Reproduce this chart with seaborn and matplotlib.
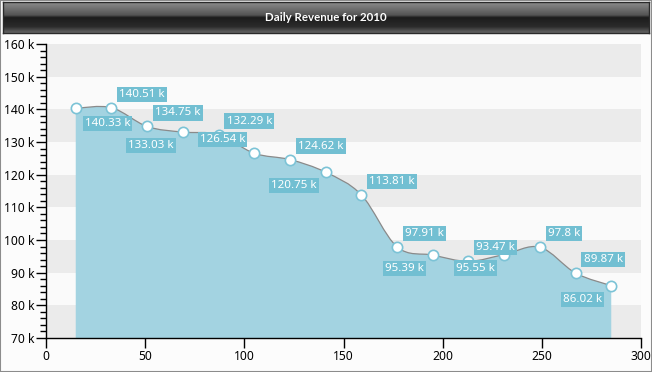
import matplotlib
matplotlib.use("Agg")
import matplotlib.pyplot as plt
import matplotlib.ticker as mticker
from matplotlib.path import Path
from matplotlib.patches import PathPatch, Rectangle
import numpy as np
import seaborn as sns


# ---------------------------------------------------------------------------
# Data
# ---------------------------------------------------------------------------

DAYS = [15, 33, 51, 69, 87, 105, 123, 141, 159, 177, 195, 213, 231, 249, 267, 285]
REVENUE = [140330, 140510, 134750, 133030, 132290, 126540, 124620, 120750,
           113810, 97910, 95390, 93470, 95550, 97800, 89870, 86020]
X_TICKS = [0, 50, 100, 150, 200, 250, 300]
Y_TICKS = [70000, 80000, 90000, 100000, 110000, 120000, 130000, 140000, 150000, 160000]
TITLE = "Daily Revenue for 2010"

# where each value label sits relative to its point (u/d = up/down, l/r = left/right)
LABEL_SIDES = ["dr", "ur", "ur", "dl", "ur", "ul", "ur", "dl",
               "ur", "ur", "dl", "ur", "dl", "ur", "ur", "dl"]

W, H = 652, 372
FILL = "#a3d3e1"
LABEL_BG = "#72bfd2"
BAND = "#ebebeb"
BG = "#fafafa"

sns.set_theme(style="white")
plt.rcParams["font.family"] = ["Noto Sans", "DejaVu Sans"]


def spline_verts(xs, ys, tension=1.0):
    """Cardinal spline through the points, as cubic Bezier segments."""
    pts = np.column_stack([xs, ys]).astype(float)
    n = len(pts)
    verts = [pts[0]]
    codes = [Path.MOVETO]
    for i in range(n - 1):
        p0 = pts[i - 1] if i > 0 else pts[i]
        p1, p2 = pts[i], pts[i + 1]
        p3 = pts[i + 2] if i + 2 < n else pts[i + 1]
        verts += [p1 + (p2 - p0) * tension / 6, p2 - (p3 - p1) * tension / 6, p2]
        codes += [Path.CURVE4] * 3
    return verts, codes


fig = plt.figure(figsize=(W / 100, H / 100), dpi=100, facecolor="#fcfcfc")

# title bar with a glossy dark gradient
bar = fig.add_axes([3 / W, 1 - 33 / H, 646 / W, 31 / H])
stops = [(0.0, 0.55), (0.42, 0.33), (0.5, 0.11), (0.8, 0.17), (1.0, 0.40)]
t = np.linspace(0, 1, 64)
shade = np.interp(t, [s[0] for s in stops], [s[1] for s in stops])
bar.imshow(np.repeat(shade[:, None, None], 3, axis=2), aspect="auto",
           extent=[0, 1, 0, 1], origin="upper")
bar.set_xlim(0, 1)
bar.set_ylim(0, 1)
bar.set_xticks([])
bar.set_yticks([])
for sp in bar.spines.values():
    sp.set_color("#2a2a2a")
    sp.set_linewidth(1)
bar.text(0.5, 0.5, TITLE, color="white", fontsize=8.3, fontweight="bold",
         family=["Lato", "DejaVu Sans"], ha="center", va="center")

ax = fig.add_axes([46 / W, 34 / H, 595 / W, 294 / H])
ax.set_facecolor(BG)

# alternating horizontal bands
for lo, hi in zip(Y_TICKS[::2], Y_TICKS[1::2]):
    ax.axhspan(lo, hi, color=BAND, lw=0, zorder=0)

ymin = Y_TICKS[0]
verts, codes = spline_verts(DAYS, REVENUE)
fill_verts = verts + [(DAYS[-1], ymin), (DAYS[0], ymin), (DAYS[0], REVENUE[0])]
fill_codes = codes + [Path.LINETO, Path.LINETO, Path.CLOSEPOLY]
ax.add_patch(PathPatch(Path(fill_verts, fill_codes), facecolor=FILL,
                       edgecolor="none", zorder=2))
ax.add_patch(PathPatch(Path(verts, codes), facecolor="none",
                       edgecolor="#8a8a8a", lw=0.9, zorder=3))

sns.scatterplot(x=DAYS, y=REVENUE, ax=ax, s=55, color="white",
                edgecolor="#7cc3d6", linewidth=1.2, zorder=5)

offsets = {
    "ur": ((8, 8), "left", "bottom"),
    "ul": ((-9, 8), "right", "bottom"),
    "dr": ((9, -10), "left", "top"),
    "dl": ((-9, -8), "right", "top"),
}
for x, y, side in zip(DAYS, REVENUE, LABEL_SIDES):
    (dx, dy), ha, va = offsets[side]
    ax.annotate(f"{y / 1000:g} k", (x, y), xytext=(dx, dy),
                textcoords="offset pixels", ha=ha, va=va, color="white",
                fontsize=8.3, zorder=6,
                bbox=dict(boxstyle="square,pad=0.18", fc=LABEL_BG, ec="none"))

ax.set_xlim(X_TICKS[0], X_TICKS[-1])
ax.set_ylim(Y_TICKS[0], Y_TICKS[-1])
ax.set_xticks(X_TICKS)
ax.set_yticks(Y_TICKS)
ax.yaxis.set_minor_locator(mticker.MultipleLocator(2000))
ax.yaxis.set_major_formatter(mticker.FuncFormatter(lambda v, _: f"{int(v / 1000)} k"))
ax.tick_params(axis="both", which="major", length=7, width=1, color="black",
               labelsize=8.7, labelcolor="black", pad=1.5)
ax.tick_params(axis="y", which="minor", length=4, width=1, color="black", left=True)
ax.tick_params(axis="x", bottom=True)
ax.tick_params(axis="y", left=True)
for side in ["top", "right"]:
    ax.spines[side].set_visible(False)
for side in ["left", "bottom"]:
    ax.spines[side].set_color("black")
    ax.spines[side].set_linewidth(1)
ax.grid(False)

# outer frame
fig.add_artist(Rectangle((0, 0), 1, 1, transform=fig.transFigure, fill=False,
                         edgecolor="#8c8c8c", lw=1.5))

fig.savefig("out.png", dpi=100, facecolor=fig.get_facecolor())
